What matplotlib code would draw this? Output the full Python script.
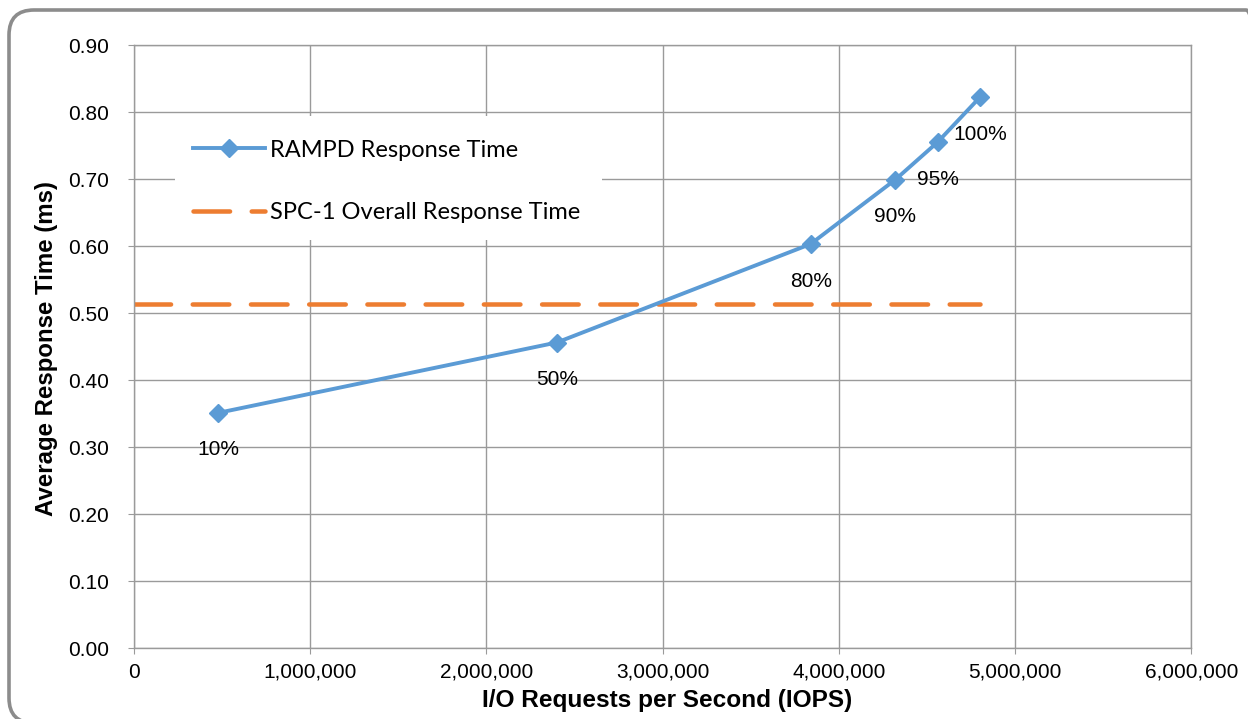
import matplotlib.pyplot as plt
from matplotlib.patches import FancyBboxPatch, Rectangle
from matplotlib.transforms import IdentityTransform
from matplotlib.ticker import FuncFormatter

# Data
load_levels = ['10%', '50%', '80%', '90%', '95%', '100%']
iops = [480000, 2400000, 3840000, 4320000, 4560000, 4800000]
response_ms = [0.351, 0.456, 0.603, 0.699, 0.755, 0.822]
overall_ms = 0.513
overall_x = [0, 4800000]

blue = '#5B9BD5'
orange = '#ED7D31'
grid_c = '#9a9a9a'

fig = plt.figure(figsize=(12.48, 7.19), dpi=100)
ax = fig.add_axes([0.1071, 0.0987, 0.8476, 0.8387])

# rounded chart border (pixel coordinates), right/bottom edges fall off the image
border = FancyBboxPatch((9, -4), 1262, 713, boxstyle='round,pad=0,rounding_size=25',
                        transform=IdentityTransform(), facecolor='none',
                        edgecolor='#8c8c8c', linewidth=2.6, zorder=0)
fig.patches.append(border)

# main series
ax.plot(iops, response_ms, color=blue, linewidth=2.8, marker='D', markersize=9.5,
        markerfacecolor=blue, markeredgecolor=blue, label='RAMPD Response Time', zorder=3)

# overall response time line
ax.plot(overall_x, [overall_ms, overall_ms], color=orange, linewidth=3.25,
        dashes=(8.1, 4.8), dash_capstyle='round', label='SPC-1 Overall Response Time', zorder=2)

# point labels
for x, y, lab in zip(iops, response_ms, load_levels):
    ax.annotate(lab, (x, y), textcoords='offset points', xytext=(0, -30.6),
                ha='center', va='baseline', fontsize=15, family='Liberation Sans')

ax.set_xlim(0, 6000000)
ax.set_ylim(0, 0.9)
ax.set_xticks(range(0, 6000001, 1000000))
ax.set_yticks([i / 10 for i in range(10)])
ax.xaxis.set_major_formatter(FuncFormatter(lambda v, p: f'{int(v):,}'))
ax.yaxis.set_major_formatter(FuncFormatter(lambda v, p: f'{v:.2f}'))

ax.set_axisbelow(True)
ax.grid(True, color=grid_c, linewidth=1)
for s in ax.spines.values():
    s.set_color(grid_c)
    s.set_linewidth(1)
ax.tick_params(axis='y', length=4.5, color=grid_c, pad=13, labelsize=15)
ax.tick_params(axis='x', length=4.5, color=grid_c, pad=6, labelsize=15)
for t in ax.get_xticklabels() + ax.get_yticklabels():
    t.set_family('Liberation Sans')

# legend with white background
ax.add_patch(Rectangle((0.039, 0.677), 0.404, 0.205, transform=ax.transAxes,
                       facecolor='white', edgecolor='none', zorder=1))
leg = ax.legend(loc='upper left', bbox_to_anchor=(0.0561, 0.843), frameon=False,
                borderaxespad=0, borderpad=0, handlelength=3.05, handletextpad=0.22,
                labelspacing=1.75, prop={'family': 'Lato', 'size': 17})

# axis titles
fig.text(47 / 1248, 1 - 348 / 719, 'Average Response Time (ms)', rotation=90,
         ha='center', va='center', fontsize=17.3, fontweight='bold', family='Liberation Sans')
fig.text(667 / 1248, 1 - 700 / 719, 'I/O Requests per Second (IOPS)',
         ha='center', va='center', fontsize=17.6, fontweight='bold', family='Liberation Sans')

fig.savefig('out.png', dpi=100)
plt.close(fig)
